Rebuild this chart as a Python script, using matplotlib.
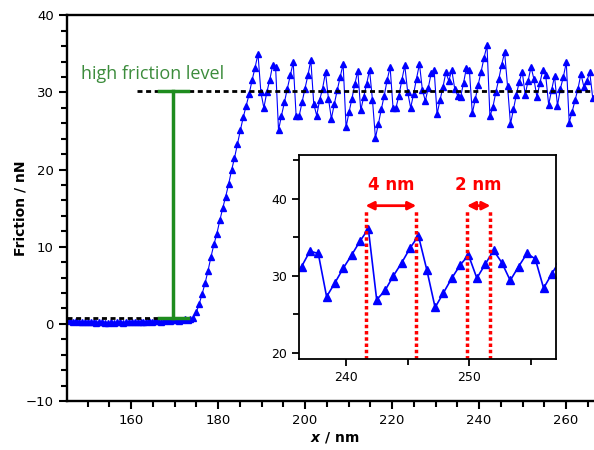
import numpy as np
import matplotlib
matplotlib.use('Agg')
import matplotlib.pyplot as plt
from matplotlib.ticker import MultipleLocator

plt.rcParams['font.family'] = 'DejaVu Sans'
plt.rcParams['mathtext.fontset'] = 'custom'
plt.rcParams['mathtext.it'] = 'DejaVu Sans:bold:italic'

# sampling grid of the friction trace (nm)
x_start = 145.3
x_step = 0.675

# friction values (nN)
f_low = [0.5, 0.4, 0.3, 0.4, 0.3, 0.2, 0.3, 0.3, 0.2, 0.2, 0.1, 0.2, 0.2, 0.1,
         0.1, 0.2, 0.1, 0.2, 0.2, 0.1, 0.2, 0.2, 0.3, 0.2, 0.3, 0.3, 0.2, 0.3,
         0.4, 0.3, 0.4, 0.4, 0.3, 0.4, 0.5, 0.4, 0.5, 0.5, 0.4, 0.5, 0.6, 0.5, 0.6]
f_ramp = [0.8, 1.5, 2.6, 3.9, 5.3, 6.9, 8.7, 10.3, 11.7, 13.4, 15.0, 16.5,
          18.1, 19.9, 21.5, 23.3, 25.1, 26.8, 28.3, 29.8, 31.6, 33.2, 35.0]
f_stick = [30.0, 28.0, 30.0, 31.6, 33.5, 33.3, 25.1, 27.0, 28.7, 30.5, 32.2,
           33.9, 26.9, 26.9, 28.7, 30.5, 32.2, 34.2, 28.5, 27.0, 29.0, 30.5,
           32.6, 29.2, 26.6, 28.5, 30.3, 32.0, 33.7, 25.5, 27.4, 29.2, 31.1,
           32.8, 27.7, 29.4, 31.1, 32.9, 29.0, 24.1, 25.9, 27.8, 29.6, 31.6,
           33.3, 28.0, 28.0, 29.6, 31.6, 33.5, 30.0, 28.0, 29.8, 31.8, 33.7,
           30.3, 28.9, 30.6, 32.5, 32.9, 27.2, 29.0, 30.7, 32.6, 31.5, 32.9,
           30.5, 29.6, 29.4]
f_zoomed = [31.2, 33.2, 32.9, 27.3, 29.1, 31.0, 32.7, 34.5, 36.1, 26.9, 28.1,
            30.0, 31.7, 33.6, 35.2, 30.8, 25.9, 27.8, 29.7, 31.4, 32.7, 29.7,
            31.5, 33.3, 31.7, 29.4, 31.2, 32.9, 32.2, 28.4, 30.3, 32.1]
f_end = [28.3, 30.5, 32.0, 33.9, 26.1, 27.5, 29.0, 30.5, 32.4, 30.7, 31.5,
         32.6, 29.3]

friction = np.array(f_low + f_ramp + f_stick + f_zoomed + f_end)
x = x_start + x_step * np.arange(len(friction))

low_level = 0.8
high_level = 30.2
level_x = 169.6
# stick-slip periods marked in the inset: (left, right, label)
periods = [(241.6, 245.7, '4 nm'), (249.8, 251.7, '2 nm')]

fig = plt.figure(figsize=(5.94, 4.5), dpi=100)
ax = fig.add_axes([0.113, 0.109, 0.9, 0.857])

ax.plot(x, friction, '-^', color='#0000ff', lw=0.8, ms=5, zorder=2)
ax.plot([145.3, 173.0], [low_level, low_level], color='black', lw=2,
        ls=(0, (1.8, 1.3)), zorder=3)
ax.plot([161.3, 270], [high_level, high_level], color='black', lw=2,
        ls=(0, (1.8, 1.3)), zorder=3)
green = '#1e8c1e'
ax.plot([level_x, level_x], [low_level, high_level], color=green, lw=2.5, zorder=4)
ax.plot([166.4, 173.0], [low_level, low_level], color=green, lw=2.5, zorder=4)
ax.plot([166.4, 173.0], [high_level, high_level], color=green, lw=2.5, zorder=4)
ax.text(148.5, 32.4, 'high friction level', color='#3c8c3c', fontsize=13,
        family='Open Sans', ha='left', va='center')

ax.set_xlim(145.3, 268.2)
ax.set_ylim(-10, 40)
ax.xaxis.set_major_locator(MultipleLocator(20))
ax.xaxis.set_minor_locator(MultipleLocator(5))
ax.yaxis.set_major_locator(MultipleLocator(10))
ax.yaxis.set_minor_locator(MultipleLocator(2))
ax.tick_params(which='both', direction='out', width=1.5, labelsize=9.5)
ax.tick_params(which='major', length=6)
ax.tick_params(which='minor', length=4)
ax.spines['right'].set_visible(False)
for s in ['left', 'bottom', 'top']:
    ax.spines[s].set_linewidth(1.7)
ax.set_xlabel('$x$ / nm', fontweight='bold', fontsize=10, labelpad=2)
ax.set_ylabel('Friction / nN', fontweight='bold', fontsize=10, labelpad=-1)

# inset
axi = fig.add_axes([0.503, 0.202, 0.433, 0.454])
axi.plot(x, friction, '-^', color='#0000ff', lw=1.2, ms=6)
for left, right, label in periods:
    axi.plot([left, left], [19.2, 38.7], color='red', lw=2.5, ls=(0, (1, 0.8)))
    axi.plot([right, right], [19.2, 38.7], color='red', lw=2.5, ls=(0, (1, 0.8)))
    axi.annotate('', xy=(left, 39.1), xytext=(right, 39.1),
                 arrowprops=dict(arrowstyle='<|-|>', color='red', lw=2,
                                 mutation_scale=12, shrinkA=0, shrinkB=0))
    axi.text((left + right) / 2, 41.8, label, color='red', fontsize=12,
             fontweight='bold', ha='center', va='center')
axi.set_xlim(236.2, 257.0)
axi.set_ylim(19.2, 45.7)
axi.xaxis.set_major_locator(MultipleLocator(10))
axi.xaxis.set_minor_locator(MultipleLocator(5))
axi.yaxis.set_major_locator(MultipleLocator(10))
axi.yaxis.set_minor_locator(MultipleLocator(5))
axi.tick_params(which='both', direction='out', width=1.3, labelsize=9)
axi.tick_params(which='major', length=5)
axi.tick_params(which='minor', length=4)
for s in axi.spines.values():
    s.set_linewidth(1.3)

fig.savefig('out.png', dpi=100)
